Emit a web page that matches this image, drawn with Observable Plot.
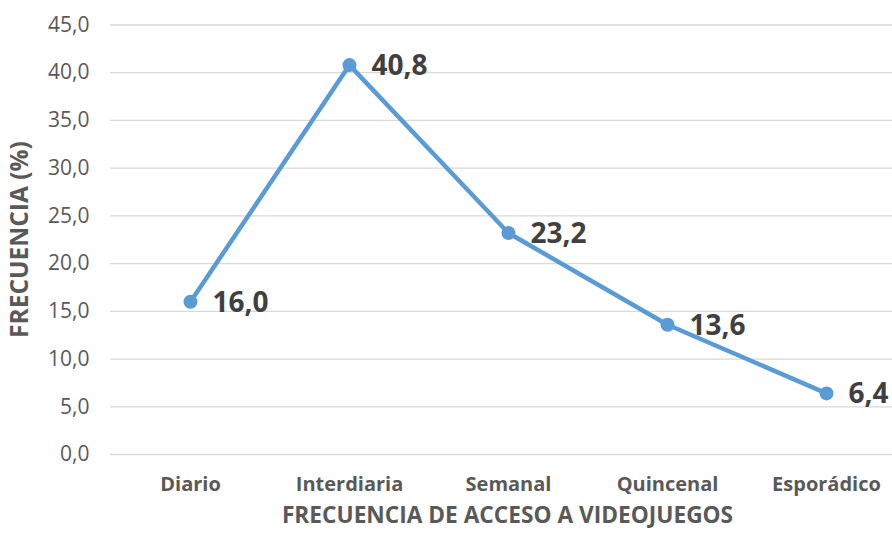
<!DOCTYPE html>
<html>
<head>
<meta charset="utf-8">
<script src="https://cdn.jsdelivr.net/npm/d3@7"></script>
<script src="https://cdn.jsdelivr.net/npm/@observablehq/plot@0.6"></script>
<style>
  html, body { margin: 0; padding: 0; background: #fff; }
  #chart svg { display: block; }
</style>
</head>
<body>
<div id="chart"></div>
<script>
const categories = ["Diario", "Interdiaria", "Semanal", "Quincenal", "Esporádico"];
const values = [16.0, 40.8, 23.2, 13.6, 6.4];
const yTicks = [0, 5, 10, 15, 20, 25, 30, 35, 40, 45];
const xTitle = "FRECUENCIA DE ACCESO A VIDEOJUEGOS";
const yTitle = "FRECUENCIA (%)";

const data = categories.map((c, i) => ({cat: c, value: values[i]}));
const fmt = d => d.toFixed(1).replace(".", ",");
const FONT = "'Open Sans', sans-serif";

const chart = Plot.plot({
  width: 892,
  height: 534,
  marginLeft: 110,
  marginRight: 0,
  marginTop: 24,
  marginBottom: 80,
  style: {fontFamily: FONT, background: "#fff"},
  x: {type: "point", domain: categories, range: [190, 826], padding: 0},
  y: {domain: [0, 45], range: [454, 24.5]},
  marks: [
    Plot.ruleY(yTicks, {stroke: "#D9D9D9", strokeWidth: 1.3}),
    Plot.axisY({ticks: yTicks, tickFormat: fmt, tickSize: 0, tickPadding: 21, fontSize: 21, fill: "#595959", label: null}),
    Plot.axisY({ticks: [], label: yTitle, labelAnchor: "center", labelArrow: "none", labelOffset: 100, dy: -10, fontSize: 24.5, fontWeight: "bold", fill: "#595959"}),
    Plot.axisX({tickSize: 0, tickPadding: 22, fontSize: 20, fontWeight: "bold", fill: "#595959", label: null}),
    Plot.line(data, {x: "cat", y: "value", stroke: "#5B9BD5", strokeWidth: 4.5, strokeLinejoin: "round"}),
    Plot.dot(data, {x: "cat", y: "value", r: 7, fill: "#5B9BD5", stroke: "none"}),
    Plot.text(data, {x: "cat", y: "value", text: d => fmt(d.value), textAnchor: "start", dx: 22, dy: 1, fontSize: 28, fontWeight: "bold", fill: "#404040"}),
    Plot.text([xTitle], {frameAnchor: "bottom", dx: 6, dy: 68, fontSize: 22.7, fontWeight: "bold", fill: "#595959"})
  ]
});
document.getElementById("chart").appendChild(chart);
</script>
</body>
</html>
